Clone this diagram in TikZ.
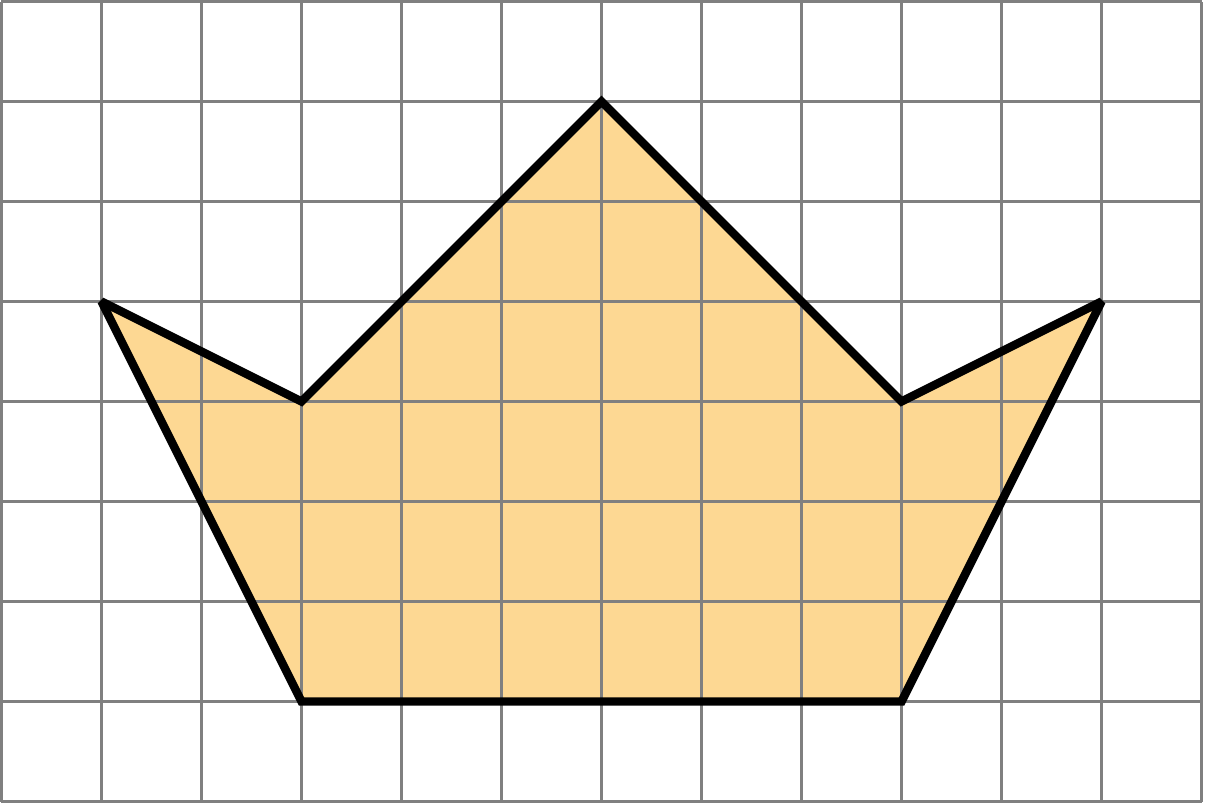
\documentclass[tikz,border=0pt]{standalone}
\usepackage{xcolor}
\usepackage{tikz}
\definecolor{gridGray}{HTML}{808080}
\definecolor{crownFill}{HTML}{FDD893}
\tikzset{
  gridline/.style={draw=gridGray, line width=0.85pt},
  crown/.style={
    draw=black,
    line width=2.4pt,
    line join=miter,
    miter limit=2
  }
}
\begin{document}
\begin{tikzpicture}
\useasboundingbox (-0.015,-0.025) rectangle (12.035,8.015);

% filled shape first, grid on top of it
\fill[crownFill] (3,1) -- (1,5) -- (3,4) -- (6,7) -- (9,4) -- (11,5) -- (9,1) -- cycle;
\draw[gridline] (0,0) grid (12,8);
\draw[crown] (3,1) -- (1,5) -- (3,4) -- (6,7) -- (9,4) -- (11,5) -- (9,1) -- cycle;

\end{tikzpicture}
\end{document}
